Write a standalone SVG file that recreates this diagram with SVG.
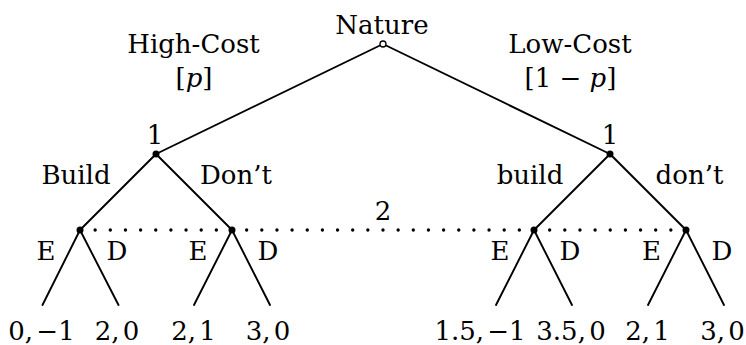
<svg xmlns="http://www.w3.org/2000/svg" width="746" height="345" viewBox="0 0 746 345">
<style>
text{font-family:"DejaVu Serif","Liberation Serif",serif;font-size:26px;fill:#000;text-anchor:middle}
.pay{word-spacing:-5px}
.e{stroke:#000;stroke-width:1.9;fill:none;stroke-linecap:round}
.dot{fill:#000}
</style>
<rect width="746" height="345" fill="#fff"/>
<g id="edges">
<path class="e" d="M383,44L156,154M383,44L610,154"/>
<path class="e" d="M156,154L80,230M156,154L232,230M610,154L534,230M610,154L686,230"/>
<path class="e" d="M80,230L42.5,305M80,230L118.5,305M232,230L194,305M232,230L270,305"/>
<path class="e" d="M534,230L496,305M534,230L572,305M686,230L648,305M686,230L724,305"/>
<path id="info-set" d="M80,230H686" stroke="#000" stroke-width="3.4" stroke-linecap="round" stroke-dasharray="0 15.15" fill="none"/>
<text x="383" y="220">2</text>
</g>
<g id="nature">
<circle cx="383" cy="44" r="3" fill="#fff" stroke="#000" stroke-width="1.3"/>
<text x="382" y="34">Nature</text>
<text x="193.5" y="53">High-Cost</text>
<text x="194" y="87">[<tspan font-style="italic">p</tspan>]</text>
<text x="570" y="53">Low-Cost</text>
<text x="570.5" y="87">[1 − <tspan font-style="italic">p</tspan>]</text>
</g>
<g id="p1-high">
<circle class="dot" cx="156" cy="154" r="3.5"/>
<text x="155" y="144">1</text>
<text x="76" y="183.5">Build</text>
<text x="236" y="183.5">Don’t</text>
</g>
<g id="p1-low">
<circle class="dot" cx="610" cy="154" r="3.5"/>
<text x="610" y="144">1</text>
<text x="530" y="183.5">build</text>
<text x="689.5" y="183.5">don’t</text>
</g>
<g id="p2-a">
<circle class="dot" cx="80" cy="230" r="3.5"/>
<text x="46" y="260">E</text>
<text x="117" y="260">D</text>
<text class="pay" x="41.5" y="340">0, −1</text>
<text class="pay" x="117" y="340">2, 0</text>
</g>
<g id="p2-b">
<circle class="dot" cx="232" cy="230" r="3.5"/>
<text x="198" y="260">E</text>
<text x="268" y="260">D</text>
<text class="pay" x="193.5" y="340">2, 1</text>
<text class="pay" x="268" y="340">3, 0</text>
</g>
<g id="p2-c">
<circle class="dot" cx="534" cy="230" r="3.5"/>
<text x="500" y="260">E</text>
<text x="570" y="260">D</text>
<text class="pay" x="480" y="340">1.5, −1</text>
<text class="pay" x="571" y="340">3.5, 0</text>
</g>
<g id="p2-d">
<circle class="dot" cx="686" cy="230" r="3.5"/>
<text x="651.5" y="260">E</text>
<text x="722" y="260">D</text>
<text class="pay" x="647.5" y="340">2, 1</text>
<text class="pay" x="722.5" y="340">3, 0</text>
</g>
</svg>
